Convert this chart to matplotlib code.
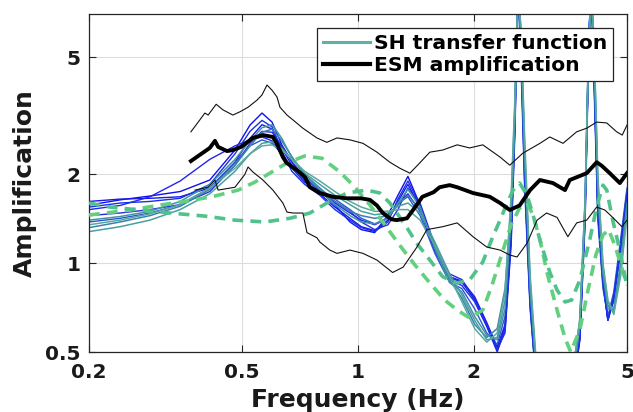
import matplotlib
matplotlib.use("Agg")
import matplotlib.pyplot as plt
from matplotlib.lines import Line2D
from matplotlib.ticker import NullLocator

# ---------------- data ----------------
xticks = [0.2, 0.5, 1, 2, 5]
xtick_labels = ["0.2", "0.5", "1", "2", "5"]
yticks = [0.5, 1, 2, 5]
ytick_labels = ["0.5", "1", "2", "5"]

freq_sh = [0.20, 0.241, 0.288, 0.345, 0.412, 0.479, 0.524, 0.563, 0.598, 0.634,
           0.673, 0.727, 0.796, 0.871, 0.953, 1.02, 1.105, 1.196, 1.27, 1.348,
           1.45, 1.584, 1.73, 1.862, 2.01, 2.16, 2.30, 2.41, 2.50, 2.56,
           2.60, 2.65, 2.71, 2.80, 2.90, 3.06, 3.35, 3.59, 3.77, 3.89,
           3.96, 4.03, 4.10, 4.20, 4.33, 4.46, 4.62, 4.81, 5.0]

sh_b1 = [1.575, 1.64, 1.69, 1.75, 1.915, 2.42, 2.94, 3.23, 3.01, 2.52,
         2.21, 1.95, 1.77, 1.575, 1.38, 1.30, 1.27, 1.457, 1.70, 1.97,
         1.575, 1.108, 0.89, 0.866, 0.75, 0.617, 0.508, 0.594, 1.20, 3.06,
         9.1, 5.71, 2.07, 0.75, 0.402, 0.294, 0.272, 0.344, 0.549, 1.40,
         4.18, 9.86, 4.88, 1.515, 0.877, 0.642, 0.75, 1.108, 1.70]
sh_b2 = [1.62, 1.65, 1.66, 1.68, 1.80, 2.20, 2.65, 2.95, 2.85, 2.45,
         2.15, 1.90, 1.72, 1.55, 1.42, 1.33, 1.29, 1.40, 1.62, 1.85,
         1.55, 1.12, 0.90, 0.87, 0.77, 0.63, 0.52, 0.62, 1.30, 3.3,
         9.5, 5.2, 1.9, 0.72, 0.40, 0.30, 0.28, 0.36, 0.58, 1.5,
         4.4, 9.5, 4.5, 1.45, 0.85, 0.65, 0.78, 1.15, 1.75]
sh_b3 = [1.52, 1.57, 1.68, 1.90, 2.25, 2.50, 2.62, 2.68, 2.60, 2.35,
         2.10, 1.88, 1.75, 1.60, 1.48, 1.40, 1.35, 1.42, 1.58, 1.72,
         1.50, 1.10, 0.88, 0.84, 0.74, 0.61, 0.50, 0.60, 1.25, 3.1,
         9.0, 5.5, 2.0, 0.74, 0.41, 0.30, 0.27, 0.35, 0.56, 1.45,
         4.2, 9.8, 4.7, 1.50, 0.86, 0.64, 0.76, 1.12, 1.72]
sh_b4 = [1.45, 1.48, 1.52, 1.58, 1.75, 2.15, 2.55, 2.80, 2.78, 2.50,
         2.20, 1.95, 1.75, 1.62, 1.50, 1.38, 1.30, 1.35, 1.52, 1.80,
         1.60, 1.15, 0.92, 0.88, 0.76, 0.62, 0.51, 0.58, 1.15, 2.9,
         8.5, 5.8, 2.1, 0.76, 0.42, 0.31, 0.28, 0.35, 0.55, 1.35,
         4.0, 9.2, 5.0, 1.60, 0.88, 0.66, 0.75, 1.10, 1.68]
sh_b5 = [1.38, 1.42, 1.48, 1.58, 1.80, 2.20, 2.50, 2.62, 2.55, 2.35,
         2.12, 1.92, 1.78, 1.65, 1.52, 1.42, 1.36, 1.42, 1.60, 1.68,
         1.45, 1.08, 0.86, 0.82, 0.70, 0.58, 0.53, 0.66, 1.40, 3.5,
         8.8, 4.8, 1.8, 0.70, 0.40, 0.30, 0.29, 0.38, 0.62, 1.6,
         4.6, 9.0, 4.2, 1.40, 0.82, 0.66, 0.80, 1.20, 1.80]
sh_b6 = [1.55, 1.60, 1.62, 1.66, 1.85, 2.35, 2.80, 3.05, 2.90, 2.40,
         2.05, 1.85, 1.70, 1.52, 1.40, 1.32, 1.28, 1.38, 1.65, 1.90,
         1.58, 1.12, 0.90, 0.86, 0.76, 0.62, 0.51, 0.61, 1.25, 3.2,
         9.3, 5.3, 1.95, 0.73, 0.41, 0.30, 0.27, 0.35, 0.57, 1.48,
         4.3, 9.6, 4.6, 1.48, 0.86, 0.64, 0.77, 1.14, 1.74]
sh_t1 = [1.32, 1.38, 1.45, 1.56, 1.78, 2.15, 2.50, 2.78, 2.85, 2.60,
         2.30, 2.00, 1.80, 1.62, 1.50, 1.45, 1.42, 1.45, 1.58, 1.70,
         1.52, 1.15, 0.88, 0.76, 0.62, 0.56, 0.60, 0.82, 1.6, 3.6,
         8.0, 6.0, 2.4, 0.85, 0.45, 0.32, 0.30, 0.40, 0.64, 1.6,
         4.5, 8.5, 5.5, 1.8, 0.95, 0.72, 0.68, 0.95, 1.55]
sh_t2 = [1.28, 1.33, 1.40, 1.52, 1.72, 2.05, 2.35, 2.55, 2.58, 2.45,
         2.25, 2.02, 1.85, 1.70, 1.58, 1.50, 1.46, 1.48, 1.56, 1.60,
         1.48, 1.18, 0.92, 0.78, 0.64, 0.55, 0.56, 0.75, 1.5, 3.4,
         8.3, 6.2, 2.5, 0.88, 0.46, 0.33, 0.30, 0.39, 0.62, 1.55,
         4.4, 8.8, 5.8, 1.9, 0.98, 0.74, 0.69, 0.92, 1.50]
sh_t3 = [1.40, 1.44, 1.50, 1.62, 1.85, 2.25, 2.60, 2.88, 2.95, 2.65,
         2.28, 1.98, 1.78, 1.58, 1.45, 1.38, 1.36, 1.42, 1.60, 1.78,
         1.55, 1.12, 0.86, 0.80, 0.66, 0.57, 0.55, 0.70, 1.45, 3.3,
         8.6, 5.9, 2.3, 0.82, 0.44, 0.31, 0.29, 0.38, 0.61, 1.5,
         4.3, 9.0, 5.4, 1.75, 0.92, 0.70, 0.70, 1.00, 1.60]
sh_t4 = [1.35, 1.40, 1.47, 1.58, 1.80, 2.10, 2.35, 2.50, 2.52, 2.42,
         2.25, 2.05, 1.90, 1.75, 1.62, 1.55, 1.50, 1.50, 1.52, 1.52,
         1.40, 1.15, 0.90, 0.74, 0.60, 0.54, 0.58, 0.80, 1.7, 3.8,
         7.8, 6.5, 2.7, 0.92, 0.48, 0.34, 0.31, 0.40, 0.65, 1.65,
         4.6, 8.2, 6.0, 2.0, 1.00, 0.75, 0.67, 0.90, 1.45]

# dashed green model curves
dash_a_f = [0.2, 0.256, 0.306, 0.377, 0.425, 0.488, 0.540, 0.590, 0.654, 0.727,
            0.806, 0.897, 0.982, 1.074, 1.174, 1.284, 1.406, 1.537, 1.68, 1.81,
            1.95, 2.11, 2.23, 2.36, 2.50, 2.63, 2.75, 2.85, 2.97, 3.11,
            3.29, 3.45, 3.57, 3.77, 3.96, 4.15, 4.33, 4.48, 4.65, 4.82, 5.0]
dash_a_amp = [1.457, 1.515, 1.575, 1.64, 1.69, 1.77, 1.885, 2.02, 2.19, 2.31,
              2.27, 2.04, 1.81, 1.575, 1.35, 1.15, 0.986, 0.857, 0.75, 0.694,
              0.652, 0.694, 0.843, 1.066, 1.35, 1.54, 1.60, 1.457, 1.20, 0.912,
              0.694, 0.558, 0.5, 0.594, 0.811, 1.066, 1.246, 1.30, 1.15, 0.986, 0.843]
dash_b_f = [0.2, 0.227, 0.271, 0.325, 0.400, 0.479, 0.573, 0.665, 0.75, 0.830,
            0.936, 1.055, 1.14, 1.21, 1.262, 1.34, 1.42, 1.537, 1.66, 1.81,
            1.95, 2.11, 2.24, 2.34, 2.44, 2.53, 2.63, 2.75, 2.85, 2.97,
            3.15, 3.29, 3.45, 3.59, 3.77, 4.00, 4.17, 4.33, 4.43, 4.59, 4.81, 5.0]
dash_b_amp = [1.60, 1.55, 1.515, 1.48, 1.445, 1.40, 1.38, 1.42, 1.48, 1.60,
              1.73, 1.77, 1.73, 1.60, 1.48, 1.32, 1.17, 1.025, 0.90, 0.857,
              0.877, 1.01, 1.23, 1.40, 1.60, 1.77, 1.87, 1.70, 1.457, 1.20,
              0.933, 0.811, 0.739, 0.75, 0.877, 1.20, 1.55, 1.84, 1.77, 1.40, 1.08, 0.83]

# ESM amplification and its +/- sigma band
esm_f = [0.368, 0.388, 0.412, 0.425, 0.433, 0.457, 0.473, 0.497, 0.533, 0.566,
         0.601, 0.614, 0.638, 0.652, 0.694, 0.728, 0.75, 0.796, 0.861, 0.936,
         1.017, 1.074, 1.12, 1.16, 1.22, 1.26, 1.34, 1.39, 1.47, 1.57,
         1.63, 1.73, 1.81, 1.99, 2.20, 2.34, 2.48, 2.63, 2.80, 2.97,
         3.21, 3.45, 3.55, 3.93, 4.17, 4.30, 4.51, 4.79, 5.0]
esm_amp = [2.22, 2.33, 2.46, 2.60, 2.48, 2.40, 2.42, 2.48, 2.66, 2.72,
           2.68, 2.56, 2.29, 2.19, 2.07, 1.96, 1.81, 1.73, 1.68, 1.66,
           1.66, 1.64, 1.57, 1.48, 1.41, 1.40, 1.42, 1.515, 1.68, 1.74,
           1.81, 1.84, 1.81, 1.73, 1.68, 1.60, 1.515, 1.57, 1.77, 1.915,
           1.87, 1.77, 1.915, 2.02, 2.20, 2.14, 2.02, 1.87, 2.02]
upper_f = [0.368, 0.388, 0.400, 0.408, 0.428, 0.446, 0.473, 0.493, 0.518, 0.546,
           0.563, 0.580, 0.598, 0.616, 0.627, 0.654, 0.678, 0.719, 0.782, 0.830,
           0.882, 0.953, 1.03, 1.12, 1.21, 1.284, 1.364, 1.448, 1.537, 1.66,
           1.81, 1.95, 2.11, 2.34, 2.48, 2.68, 2.97, 3.15, 3.41, 3.70,
           3.93, 4.17, 4.43, 4.70, 4.86, 5.0]
upper_amp = [2.79, 3.06, 3.23, 3.18, 3.46, 3.31, 3.18, 3.26, 3.38, 3.57,
             3.72, 4.02, 3.86, 3.66, 3.38, 3.18, 3.06, 2.87, 2.66, 2.57,
             2.66, 2.62, 2.55, 2.38, 2.20, 2.10, 2.02, 2.19, 2.38, 2.42,
             2.52, 2.46, 2.52, 2.29, 2.15, 2.36, 2.55, 2.68, 2.55, 2.79,
             2.87, 3.01, 2.99, 2.79, 2.72, 2.94]
lower_f = [0.377, 0.408, 0.425, 0.433, 0.479, 0.508, 0.518, 0.533, 0.566, 0.601,
           0.638, 0.654, 0.678, 0.719, 0.737, 0.782, 0.796, 0.845, 0.882, 0.953,
           1.03, 1.12, 1.23, 1.31, 1.42, 1.51, 1.66, 1.81, 1.99, 2.16,
           2.34, 2.48, 2.59, 2.75, 2.92, 3.09, 3.29, 3.51, 3.70, 3.93,
           4.17, 4.38, 4.59, 4.85, 5.0]
lower_amp = [1.77, 1.81, 1.915, 1.77, 1.81, 2.0, 2.12, 2.04, 1.915, 1.77,
             1.60, 1.49, 1.48, 1.48, 1.27, 1.22, 1.18, 1.108, 1.08, 1.108,
             1.08, 1.025, 0.93, 0.97, 1.13, 1.30, 1.33, 1.37, 1.23, 1.135,
             1.108, 1.066, 1.05, 1.17, 1.40, 1.48, 1.43, 1.23, 1.37, 1.40,
             1.55, 1.515, 1.43, 1.33, 1.40]

legend_labels = ["SH transfer function", "ESM amplification"]

# ---------------- drawing ----------------
plt.rcParams["font.family"] = ["DejaVu Sans"]
plt.rcParams["font.weight"] = "bold"

fig = plt.figure(figsize=(6.33, 4.12), dpi=100)
ax = fig.add_axes([89 / 633, 60 / 412, 538 / 633, 338 / 412])
ax.set_xscale("log")
ax.set_yscale("log")

blue_curves = [sh_b1, sh_b2, sh_b3, sh_b4, sh_b5, sh_b6]
blue_colors = ["#1010ee", "#1a1ae8", "#2424f0", "#2a2ae0", "#2b55d0", "#1830e6"]
teal_curves = [sh_t1, sh_t2, sh_t3, sh_t4]
teal_colors = ["#3a80b0", "#4a9f9f", "#3f95a5", "#5aa9a0"]

for c, col in zip(blue_curves, blue_colors):
    ax.plot(freq_sh, c, color=col, lw=1.0, zorder=2)
for c, col in zip(teal_curves, teal_colors):
    ax.plot(freq_sh, c, color=col, lw=1.1, zorder=2.2)

ax.plot(dash_a_f, dash_a_amp, color="#62d07f", lw=2.6, ls=(0, (3, 2)), zorder=3)
ax.plot(dash_b_f, dash_b_amp, color="#52c28c", lw=2.6, ls=(0, (3, 2)), zorder=3)

ax.plot(upper_f, upper_amp, color="#111111", lw=0.8, zorder=4)
ax.plot(lower_f, lower_amp, color="#111111", lw=0.8, zorder=4)
ax.plot(esm_f, esm_amp, color="black", lw=2.8, zorder=5)

ax.set_xlim(0.2, 5)
ax.set_ylim(0.5, 7)
ax.set_xticks(xticks)
ax.set_xticklabels(xtick_labels)
ax.set_yticks(yticks)
ax.set_yticklabels(ytick_labels)
ax.xaxis.set_minor_locator(NullLocator())
ax.yaxis.set_minor_locator(NullLocator())
ax.grid(True, which="major", color="#dcdcdc", lw=0.8)
ax.set_axisbelow(True)
ax.tick_params(axis="both", direction="in", top=True, right=True, length=5,
               width=0.8, colors="#262626", labelsize=14.5)
ax.tick_params(axis="x", pad=8)
ax.tick_params(axis="y", pad=6)
for lbl in ax.get_xticklabels() + ax.get_yticklabels():
    lbl.set_fontweight("bold")
    lbl.set_color("#1a1a1a")
for sp in ax.spines.values():
    sp.set_color("#262626")
    sp.set_linewidth(0.9)

ax.set_xlabel("Frequency (Hz)", fontsize=18, fontweight="bold", labelpad=4,
              color="#1a1a1a")
ax.set_ylabel("Amplification", fontsize=18, fontweight="bold", labelpad=6,
              color="#1a1a1a")

handles = [Line2D([], [], color="#5fb0a5", lw=2.2),
           Line2D([], [], color="black", lw=3.0)]
leg = ax.legend(handles, legend_labels, loc="upper right",
                bbox_to_anchor=(0.974, 0.959), frameon=True, fancybox=False,
                edgecolor="#222222", framealpha=1.0,
                prop={"weight": "bold", "size": 14.6}, handlelength=2.3,
                handletextpad=0.2, borderpad=0.3, labelspacing=0.15,
                borderaxespad=0.0)
leg.get_frame().set_linewidth(0.9)
leg.set_zorder(10)

fig.savefig("out.png", dpi=100)
